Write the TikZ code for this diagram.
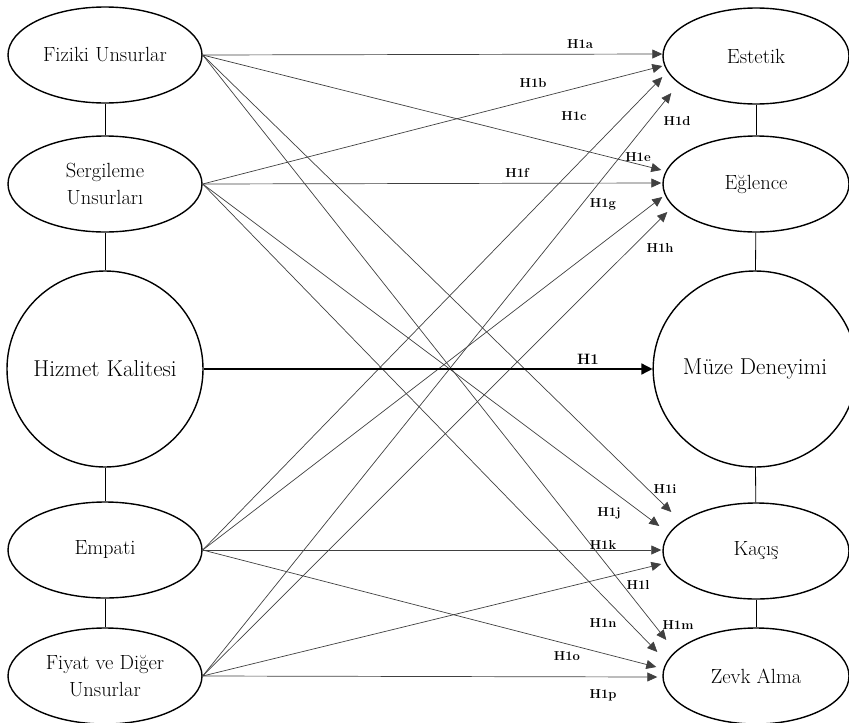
\documentclass[tikz,border=0pt]{standalone}
\usepackage{tikz}
\usetikzlibrary{arrows.meta,calc,shapes.geometric}

\begin{document}
\begin{tikzpicture}[x=1pt,y=-1pt,>={Triangle[length=10pt,width=9pt]},
  lat/.style={ellipse,draw,line width=1.4pt,minimum width=194pt,minimum height=96pt,inner sep=0pt,align=center,font=\fontsize{20.5}{27}\selectfont},
  big/.style={draw,line width=1.4pt,inner sep=0pt,font=\fontsize{23}{27}\selectfont},
  hyparrow/.style={->,black!75,line width=0.7pt},
  hyp/.style={inner sep=0pt,font=\bfseries\fontsize{13}{15}\selectfont}]
  \useasboundingbox (0,0) rectangle (849,723);
  \node[lat] (fiziki) at (105,55) {Fiziki Unsurlar};
  \node[lat] (sergi) at (105,184) {Sergileme\\Unsurları};
  \node[big,circle,minimum size=196pt] (hizmet) at (105,369) {Hizmet Kalitesi};
  \node[lat] (empati) at (105,550) {Empati};
  \node[lat] (fiyat) at (105,676) {Fiyat ve Diğer\\Unsurlar};
  \node[lat,minimum width=186pt] (estetik) at (756,56) {Estetik};
  \node[lat,minimum width=186pt] (eglence) at (756,184) {Eğlence};
  \node[big,ellipse,minimum width=188pt,minimum height=196pt] (muze) at (755,369) {Müze Deneyimi};
  \node[lat,minimum width=186pt] (kacis) at (756,551) {Kaçış};
  \node[lat,minimum width=186pt] (zevk) at (756,676) {Zevk Alma};
  \foreach \a/\b in {fiziki/sergi,sergi/hizmet,hizmet/empati,empati/fiyat,estetik/eglence,eglence/muze,muze/kacis,kacis/zevk}
    \draw[line width=0.8pt] (\a) -- (\b);
  \foreach \s/\t/\dx/\dy in {fiziki/estetik/0/-2,sergi/estetik/0/10,empati/estetik/0/21,fiyat/estetik/9/37,
    fiziki/eglence/-1/-14,sergi/eglence/-1/-1,empati/eglence/0/13,fiyat/eglence/5/28,
    fiziki/kacis/9/-39,sergi/kacis/-3/-25,empati/kacis/-1/-1,fiyat/kacis/-1/13,
    fiziki/zevk/4/-36,sergi/zevk/-5/-24,empati/zevk/-6/-9,fiyat/zevk/-5/1}
    \draw[hyparrow] (\s.east) -- ($(\t.west)+(\dx,\dy)$);
  \draw[->,line width=1.5pt,>={Triangle[length=11pt,width=11pt]}] (hizmet) -- (muze);
  \foreach \l/\x/\y in {a/580/44,b/533/83,c/574/116,d/677/121,e/638/157,f/517/173,g/603/204,h/660/248,
    i/665/489,j/609/513,k/603/545,l/638/585,m/678/625,n/603/623,o/567/656,p/603/695}
    \node[hyp] (h\l) at (\x,\y) {H1\l};
  \node[hyp,font=\bfseries\fontsize{15}{17}\selectfont] (h) at (588,359) {H1};
\end{tikzpicture}
\end{document}
